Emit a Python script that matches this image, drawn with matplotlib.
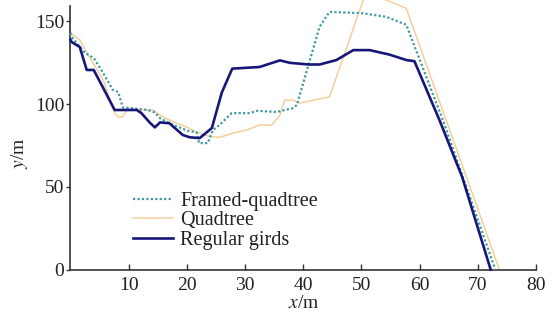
import matplotlib
matplotlib.use("Agg")
import matplotlib.pyplot as plt

# ---- data ----
framed_x = [0, 0.2, 2.5, 4.0, 5.6, 7.3, 8.2, 9.0, 10.5, 13.3, 14.5, 15.4, 17.0, 20.1, 21.7,
            22.1, 23.6, 24.5, 25.6, 27.7, 30.8, 32.0, 35.4, 38.2, 38.9, 41.0, 42.8, 44.5,
            50.2, 54.3, 57.7, 64.0, 73.0]
framed_y = [143, 140.6, 131, 128, 119, 108.6, 107.4, 98, 97.6, 96.5, 95, 91.5, 88.5, 84, 83,
            76.5, 76.5, 84.4, 87.4, 94.6, 94.6, 96, 95.3, 97.6, 99.5, 125, 146.7, 155.8,
            155, 152.8, 148, 90.4, 0]

quad_x = [0, 0.4, 1.6, 3.0, 5.6, 7.6, 8.2, 9.0, 9.7, 10.8, 14.2, 15.4, 17.0, 20.1, 21.7,
          24.0, 25.7, 28.0, 30.3, 32.5, 34.6, 36.0, 36.8, 38.2, 39.4, 44.5, 50.8, 57.7, 73.7]
quad_y = [144, 141.8, 139, 130, 115, 94.6, 92.3, 92.3, 96.5, 96.5, 96.5, 93.4, 90.4, 86, 83,
          80.5, 80, 82.6, 84.4, 87.4, 87.4, 93.4, 102.5, 102.5, 100.7, 104.4, 168, 158, 0]

grid_x = [0, 0.2, 1.6, 2.8, 4.0, 5.6, 7.6, 11.4, 12.2, 13.6, 14.5, 15.4, 17.0, 19.3, 20.5,
          22.2, 24.3, 26.0, 27.8, 32.5, 36.0, 37.7, 41.0, 42.8, 45.7, 48.6, 51.4, 54.8,
          57.7, 59.1, 63.4, 67.3, 72.2]
grid_y = [139, 137.6, 134.6, 120.7, 120.7, 110, 96.5, 96.5, 94.6, 89, 86, 89, 88.5, 81.4, 80,
          79.5, 85.6, 107, 121.5, 122.5, 126.5, 125, 124, 124, 126.7, 132.7, 132.7, 130,
          126.7, 126, 90.4, 56, 0]

series_labels = ["Framed-quadtree", "Quadtree", "Regular girds"]
x_ticks = [10, 20, 30, 40, 50, 60, 70, 80]
y_ticks = [0, 50, 100, 150]

# ---- style ----
plt.rcParams["font.family"] = ["Liberation Serif", "DejaVu Serif"]
plt.rcParams["mathtext.fontset"] = "stix"

fig = plt.figure(figsize=(5.59, 3.21), dpi=100)
ax = fig.add_axes([0.126, 0.160, 0.833, 0.822])

ax.plot(framed_x, framed_y, color="#3f9aa3", lw=1.6, ls=(0, (1, 1)),
        label=series_labels[0], clip_on=False, zorder=3)
ax.plot(quad_x, quad_y, color="#f3cf9c", lw=1.1, label=series_labels[1],
        clip_on=False, zorder=2)
ax.plot(grid_x, grid_y, color="#17177a", lw=1.9, label=series_labels[2],
        clip_on=False, zorder=4)

ax.set_xlim(0, 80)
ax.set_ylim(0, 159.5)
ax.set_xticks(x_ticks)
ax.set_yticks(y_ticks)

for s in ["top", "right"]:
    ax.spines[s].set_visible(False)
for s in ["left", "bottom"]:
    ax.spines[s].set_color("#333333")
    ax.spines[s].set_linewidth(1.2)

ax.tick_params(axis="x", direction="in", length=4, width=1, colors="#333333",
               labelsize=14, labelcolor="#222222", pad=5)
ax.tick_params(axis="y", direction="out", length=3, width=1, colors="#333333",
               labelsize=14, labelcolor="#222222", pad=1.5)

ax.set_xlabel("$x$/m", fontsize=14, color="#222222", labelpad=1)
ax.set_ylabel("$y$/m", fontsize=14, color="#222222")
ax.yaxis.set_label_coords(-0.086, 0.44)

leg = ax.legend(loc="lower left", bbox_to_anchor=(0.117, 0.045), frameon=False,
                fontsize=14.5, handlelength=2.0, handletextpad=0.35,
                labelspacing=0.02, borderaxespad=0)
for t in leg.get_texts():
    t.set_color("#222222")

fig.savefig("out.png", dpi=100)
